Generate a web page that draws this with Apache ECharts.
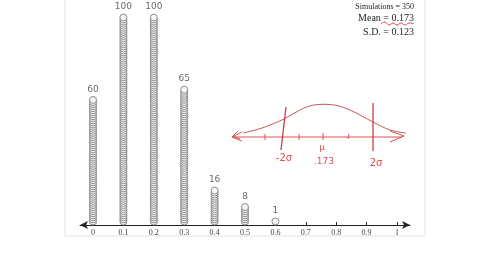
<!DOCTYPE html>
<html>
<head>
<meta charset="utf-8">
<script src="https://cdn.jsdelivr.net/npm/echarts@6/dist/echarts.min.js"></script>
<style>html,body{margin:0;padding:0;background:#fff;}#c{width:480px;height:270px;}</style>
</head>
<body>
<div id="c"></div>
<script>
const categories = [0, 0.1, 0.2, 0.3, 0.4, 0.5, 0.6];
const counts = [60, 100, 100, 65, 16, 8, 1];
const countLabels = ['60', '100', '100', '65', '16', '8', '1'];
const tickValues = [0, 0.1, 0.2, 0.3, 0.4, 0.5, 0.6, 0.7, 0.8, 0.9, 1];
const statLines = ['Simulations = 350', 'Mean = 0.173', 'S.D. = 0.123'];

const dots = [];
categories.forEach((c, i) => {
  for (let k = 0; k < counts[i]; k++) dots.push([c, k + 1.7]);
});
const labelPts = categories.map((c, i) => ({ value: [c, counts[i] + 0.7], label: { formatter: countLabels[i] } }));

const red = '#d9534f';
const chart = echarts.init(document.getElementById('c'));
chart.setOption({
  animation: false,
  backgroundColor: '#fff',
  grid: { left: 80, right: 70, top: 0, bottom: 45 },
  xAxis: {
    type: 'value', min: -0.0428, max: 1.0428,
    splitLine: { show: false },
    axisLine: { show: true, onZero: false, symbol: ['arrow', 'arrow'], symbolSize: [6, 8], lineStyle: { color: '#222', width: 1 } },
    axisTick: { show: true, customValues: tickValues, length: 3, inside: true, lineStyle: { color: '#222' } },
    axisLabel: { show: true, customValues: tickValues, margin: 4, fontFamily: 'Liberation Serif', fontSize: 8, color: '#444',
      formatter: v => String(+v.toFixed(1)) }
  },
  yAxis: { type: 'value', min: 0, max: 109.2, show: false, splitLine: { show: false } },
  graphic: [
    { type: 'rect', z: -10, shape: { x: 65, y: -2, width: 360, height: 238 }, style: { fill: '#fff', stroke: '#e2e2e2', lineWidth: 1 } },
    { type: 'text', style: { x: 414, y: 7, text: statLines[0], font: '8px "Liberation Serif"', fill: '#222', align: 'right', verticalAlign: 'middle' } },
    { type: 'text', style: { x: 414, y: 18, text: statLines[1], font: '10px "Liberation Serif"', fill: '#222', align: 'right', verticalAlign: 'middle' } },
    { type: 'text', style: { x: 414, y: 32, text: statLines[2], font: '10px "Liberation Serif"', fill: '#222', align: 'right', verticalAlign: 'middle' } },
    { type: 'polyline', shape: { points: [[381,24],[385,22],[389,25],[393,23],[397,25],[401,23],[405,25],[409,23],[414,24]], smooth: 0.5 }, style: { stroke: red, lineWidth: 1, fill: null } },
    { type: 'polyline', shape: { points: [[232,137],[402,137]] }, style: { stroke: red, lineWidth: 1, fill: null } },
    { type: 'polyline', shape: { points: [[242,132],[232,137],[242,141]] }, style: { stroke: red, lineWidth: 1, fill: null } },
    { type: 'polyline', shape: { points: [[238,131],[233,136],[240,139]] }, style: { stroke: red, lineWidth: 1, fill: null } },
    { type: 'polyline', shape: { points: [[390,131],[404,136],[390,142]] }, style: { stroke: red, lineWidth: 1, fill: null } },
    { type: 'polyline', shape: { points: [[265,134],[265,140]] }, style: { stroke: red, lineWidth: 1 } },
    { type: 'polyline', shape: { points: [[299,134],[299,140]] }, style: { stroke: red, lineWidth: 1 } },
    { type: 'polyline', shape: { points: [[323,133],[323,140]] }, style: { stroke: red, lineWidth: 1 } },
    { type: 'polyline', shape: { points: [[349,134],[348,139]] }, style: { stroke: red, lineWidth: 1 } },
    { type: 'polyline', shape: { points: [[243,133],[262,128],[284,119],[300,110],[314,105],[334,105],[350,110],[373,122],[390,130],[406,133]], smooth: 0.35 }, style: { stroke: '#c95a5a', lineWidth: 1, fill: null } },
    { type: 'polyline', shape: { points: [[286,107],[281,150]] }, style: { stroke: '#c93c3c', lineWidth: 1.3 } },
    { type: 'polyline', shape: { points: [[373,103],[373,151]] }, style: { stroke: '#c93c3c', lineWidth: 1.3 } },
    { type: 'text', style: { x: 284, y: 158, text: '-2σ', font: '10px "DejaVu Sans"', fill: red, align: 'center', verticalAlign: 'middle' } },
    { type: 'text', style: { x: 322, y: 148, text: 'μ', font: '9px "DejaVu Sans"', fill: red, align: 'center', verticalAlign: 'middle' } },
    { type: 'text', style: { x: 324, y: 162, text: '.173', font: '9px "DejaVu Sans"', fill: red, align: 'center', verticalAlign: 'middle' } },
    { type: 'text', style: { x: 376, y: 163, text: '2σ', font: '10px "DejaVu Sans"', fill: red, align: 'center', verticalAlign: 'middle' } }
  ],
  series: [
    {
      type: 'scatter', data: dots, symbol: 'circle', symbolSize: 7,
      itemStyle: { color: '#f6f6f6', borderColor: '#8c8c8c', borderWidth: 1, opacity: 1 },
      emphasis: { disabled: true }, silent: true
    },
    {
      type: 'scatter', data: labelPts, symbolSize: 0,
      label: { show: true, position: 'top', distance: 6, fontFamily: 'DejaVu Sans', fontSize: 9, color: '#444' },
      silent: true
    }
  ]
});
</script>
</body>
</html>
